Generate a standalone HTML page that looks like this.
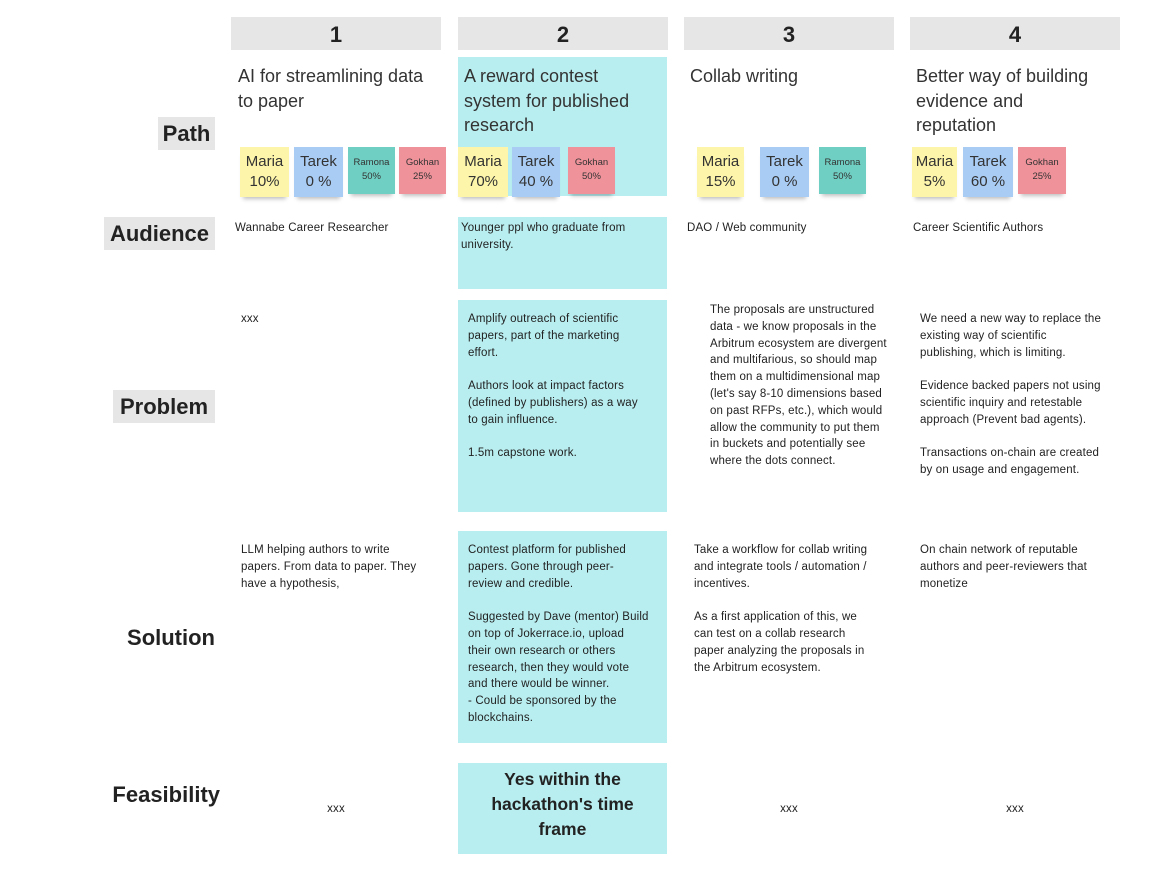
<!DOCTYPE html>
<html><head><meta charset="utf-8"><style>
body{margin:0;width:1149px;height:869px;background:#fff;font-family:"Liberation Sans",sans-serif;color:#222;position:relative;overflow:hidden}
.a{position:absolute}
.h{background:#e6e6e6;height:33px;top:17px;width:210px;font-weight:bold;font-size:22px;text-align:center;line-height:35px}
.cy{background:#b9eef0}
.lab{font-weight:bold;font-size:22px;text-align:right;line-height:33px}
.g{background:#e6e6e6}
.t{font-size:18px;line-height:24.5px;color:#333;white-space:nowrap}
.b{font-size:11.5px;line-height:16.8px;color:#222;white-space:nowrap;letter-spacing:0.15px}
.s{box-shadow:0 5px 4px -3px rgba(0,0,0,.25);text-align:center;color:#333}
.y{background:#fdf5a9}.bl{background:#a9ccf4}.gr{background:#70cfc3}.r{background:#ef929a}
.big{font-size:15px;line-height:20px;padding-top:5px}
.sm{font-size:9.5px;line-height:14px;padding-top:9px}
</style></head><body>
<div class="a h" style="left:231px">1</div>
<div class="a h" style="left:458px">2</div>
<div class="a h" style="left:684px">3</div>
<div class="a h" style="left:910px">4</div>

<div class="a cy" style="left:458px;top:57px;width:209px;height:139px"></div>
<div class="a cy" style="left:458px;top:217px;width:209px;height:72px"></div>
<div class="a cy" style="left:458px;top:300px;width:209px;height:212px"></div>
<div class="a cy" style="left:458px;top:531px;width:209px;height:212px"></div>
<div class="a cy" style="left:458px;top:763px;width:209px;height:91px"></div>

<div class="a lab g" style="left:158px;top:117px;width:57px;text-align:center">Path</div>
<div class="a lab g" style="left:104px;top:217px;width:111px;text-align:center">Audience</div>
<div class="a lab g" style="left:113px;top:390px;width:102px;text-align:center">Problem</div>
<div class="a lab" style="left:100px;top:621px;width:115px">Solution</div>
<div class="a lab" style="left:90px;top:778px;width:130px">Feasibility</div>

<div class="a t" style="left:238px;top:64px">AI for streamlining data<br>to paper</div>
<div class="a t" style="left:464px;top:64px">A reward contest<br>system for published<br>research</div>
<div class="a t" style="left:690px;top:64px">Collab writing</div>
<div class="a t" style="left:916px;top:64px">Better way of building<br>evidence and<br>reputation</div>

<div class="a s y big" style="left:240px;top:147px;width:49px;height:45px">Maria<br>10%</div>
<div class="a s bl big" style="left:294px;top:147px;width:49px;height:45px">Tarek<br>0 %</div>
<div class="a s gr sm" style="left:348px;top:147px;width:47px;height:38px">Ramona<br>50%</div>
<div class="a s r sm" style="left:399px;top:147px;width:47px;height:38px">Gokhan<br>25%</div>
<div class="a s y big" style="left:458px;top:147px;width:50px;height:45px">Maria<br>70%</div>
<div class="a s bl big" style="left:512px;top:147px;width:48px;height:45px">Tarek<br>40 %</div>
<div class="a s r sm" style="left:568px;top:147px;width:47px;height:38px">Gokhan<br>50%</div>
<div class="a s y big" style="left:697px;top:147px;width:47px;height:45px">Maria<br>15%</div>
<div class="a s bl big" style="left:760px;top:147px;width:49px;height:45px">Tarek<br>0 %</div>
<div class="a s gr sm" style="left:819px;top:147px;width:47px;height:38px">Ramona<br>50%</div>
<div class="a s y big" style="left:912px;top:147px;width:45px;height:45px">Maria<br>5%</div>
<div class="a s bl big" style="left:963px;top:147px;width:50px;height:45px">Tarek<br>60 %</div>
<div class="a s r sm" style="left:1018px;top:147px;width:48px;height:38px">Gokhan<br>25%</div>

<div class="a b" style="left:235px;top:220px">Wannabe Career Researcher</div>
<div class="a b" style="left:461px;top:220px">Younger ppl who graduate from<br>university.</div>
<div class="a b" style="left:687px;top:220px">DAO / Web community</div>
<div class="a b" style="left:913px;top:220px">Career Scientific Authors</div>

<div class="a b" style="left:241px;top:311px">xxx</div>
<div class="a b" style="left:468px;top:311px">Amplify outreach of scientific<br>papers, part of the marketing<br>effort.<br><br>Authors look at impact factors<br>(defined by publishers) as a way<br>to gain influence.<br><br>1.5m capstone work.</div>
<div class="a b" style="left:710px;top:302px">The proposals are unstructured<br>data - we know proposals in the<br>Arbitrum ecosystem are divergent<br>and multifarious, so should map<br>them on a multidimensional map<br>(let's say 8-10 dimensions based<br>on past RFPs, etc.), which would<br>allow the community to put them<br>in buckets and potentially see<br>where the dots connect.</div>
<div class="a b" style="left:920px;top:311px">We need a new way to replace the<br>existing way of scientific<br>publishing, which is limiting.<br><br>Evidence backed papers not using<br>scientific inquiry and retestable<br>approach (Prevent bad agents).<br><br>Transactions on-chain are created<br>by on usage and engagement.</div>

<div class="a b" style="left:241px;top:542px">LLM helping authors to write<br>papers. From data to paper. They<br>have a hypothesis,</div>
<div class="a b" style="left:468px;top:542px">Contest platform for published<br>papers. Gone through peer-<br>review and credible.<br><br>Suggested by Dave (mentor) Build<br>on top of Jokerrace.io, upload<br>their own research or others<br>research, then they would vote<br>and there would be winner.<br>- Could be sponsored by the<br>blockchains.</div>
<div class="a b" style="left:694px;top:542px">Take a workflow for collab writing<br>and integrate tools / automation /<br>incentives.<br><br>As a first application of this, we<br>can test on a collab research<br>paper analyzing the proposals in<br>the Arbitrum ecosystem.</div>
<div class="a b" style="left:920px;top:542px">On chain network of reputable<br>authors and peer-reviewers that<br>monetize</div>

<div class="a" style="left:458px;top:767px;width:209px;text-align:center;font-weight:bold;font-size:17.5px;line-height:25px">Yes within the<br>hackathon's time<br>frame</div>
<div class="a b" style="left:231px;top:801px;width:210px;text-align:center">xxx</div>
<div class="a b" style="left:684px;top:801px;width:210px;text-align:center">xxx</div>
<div class="a b" style="left:910px;top:801px;width:210px;text-align:center">xxx</div>
</body></html>
